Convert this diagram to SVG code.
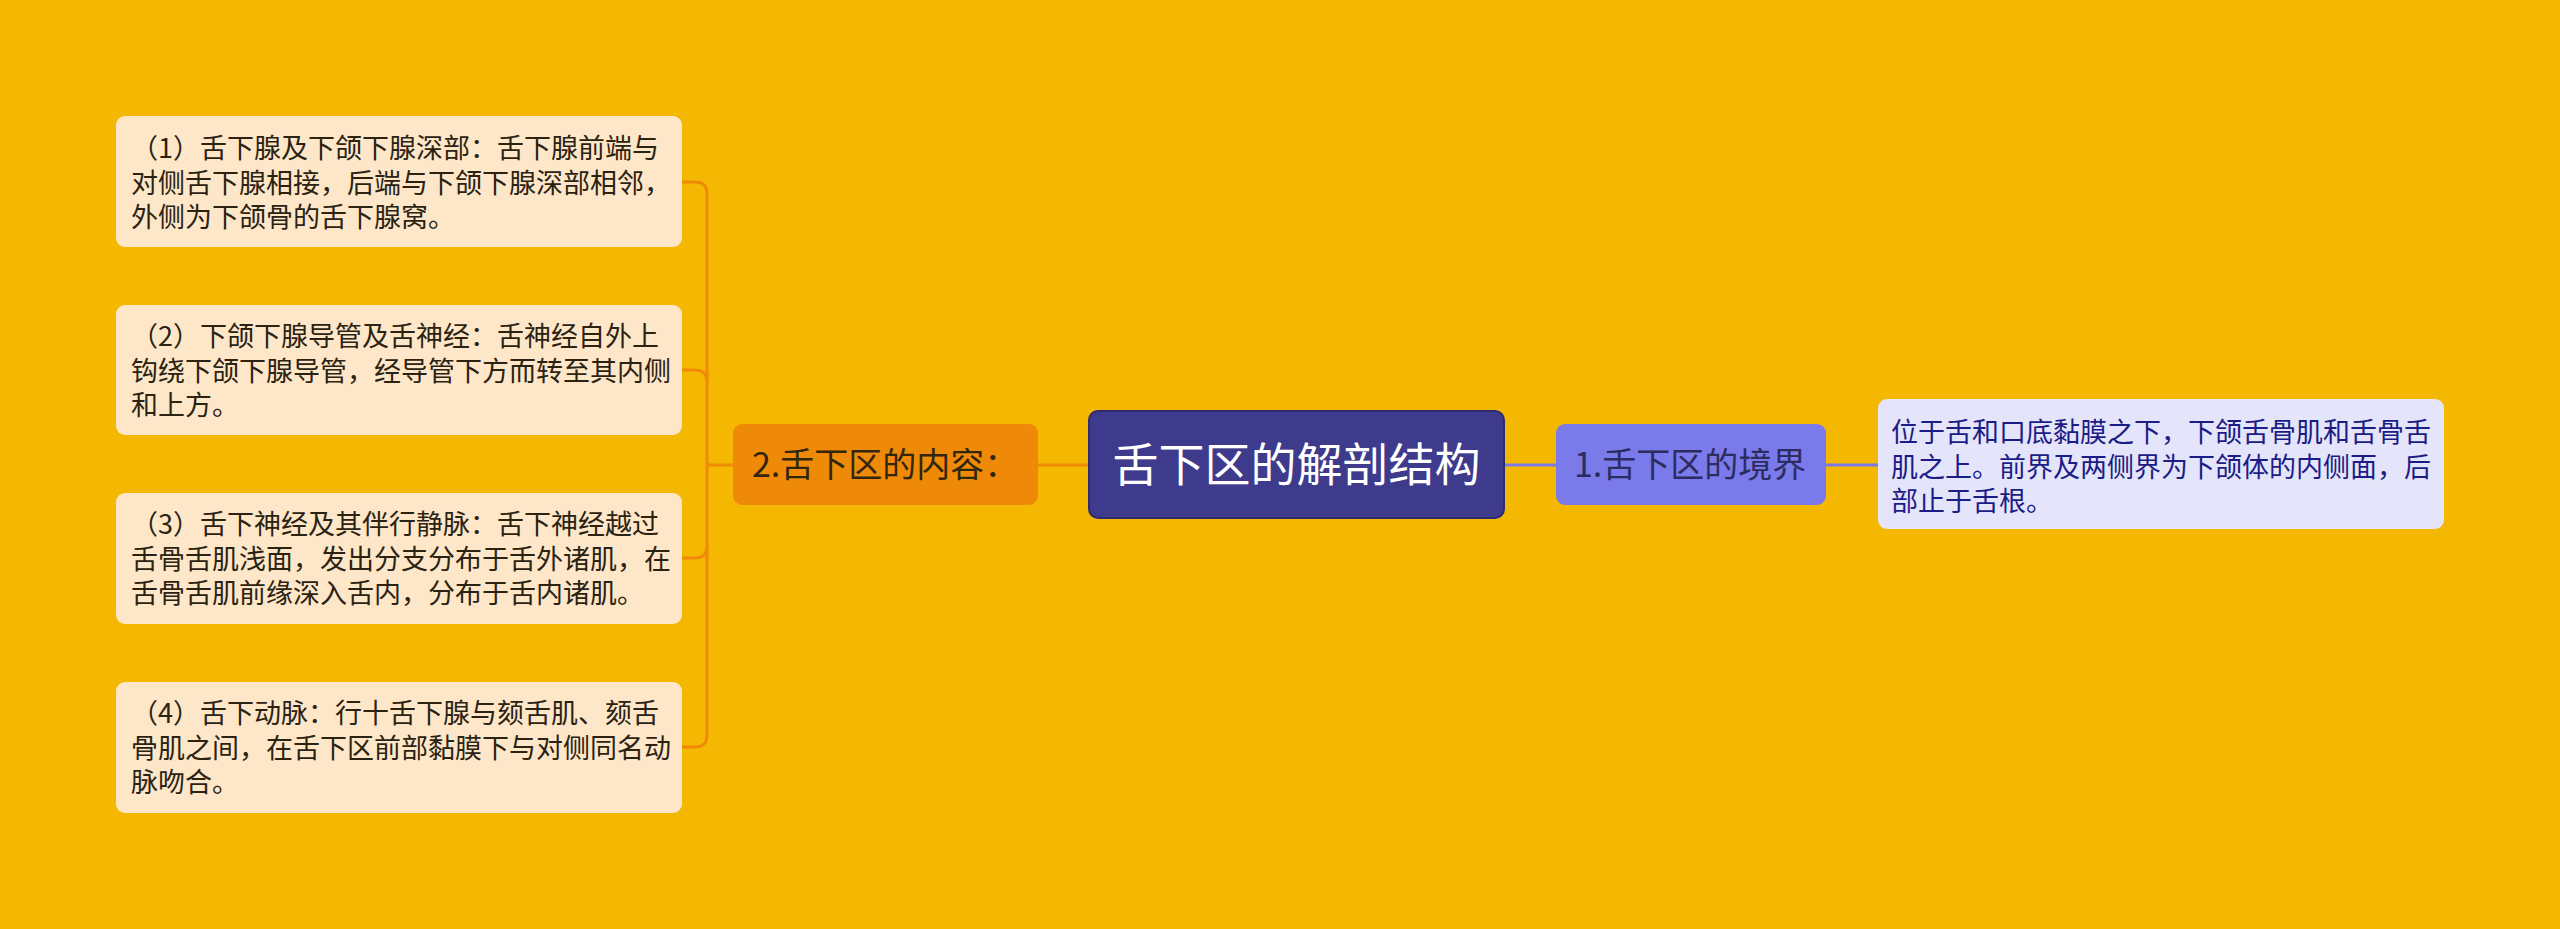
<svg xmlns="http://www.w3.org/2000/svg" width="2560" height="929" viewBox="0 0 2560 929">
<style>
text{font-family:"Noto Sans CJK SC","Noto Sans",sans-serif;}
.leaf{fill:#FDE7C8;}
.leaft{font-size:27px;fill:#2B2212;}
.rleaf{fill:#E4E4FA;}
.rleaft{font-size:27px;fill:#1C1C86;}
.ol{fill:none;stroke:#EF8A08;stroke-width:3;}
.bl{fill:none;stroke:#7B7BE6;stroke-width:3;}
</style>
<rect x="0" y="0" width="2560" height="929" fill="#F5B802"/>
<g id="connectors">
<path class="bl" d="M1504,465 H1556"/>
<path class="bl" d="M1826,465 H1878"/>
<path class="ol" d="M1089,465 H1038"/>
<path class="ol" d="M733,465 H707"/>
<path class="ol" d="M682,182 H695 Q707,182 707,194 V735 Q707,747 695,747 H682"/>
<path class="ol" d="M682,370 H695 Q707,370 707,382"/>
<path class="ol" d="M682,558 H695 Q707,558 707,546"/>
</g>
<g id="center">
<rect x="1089" y="411" width="415" height="107" rx="9" fill="#3E3A8C" stroke="#2E2A6E" stroke-width="2"/>
<text x="1296.5" y="481" font-size="46" fill="#FFFFFF" text-anchor="middle">舌下区的解剖结构</text>
</g>
<g id="n1">
<rect x="1556" y="424" width="270" height="81" rx="9" fill="#7A7AEA"/>
<text x="1574" y="477" font-size="34" fill="#2C2C5E">1.舌下区的境界</text>
</g>
<g id="n1a">
<rect class="rleaf" x="1878" y="399" width="566" height="130" rx="9"/>
<text class="rleaft" x="1891" y="442">位于舌和口底黏膜之下，下颌舌骨肌和舌骨舌</text>
<text class="rleaft" x="1891" y="476.5">肌之上。前界及两侧界为下颌体的内侧面，后</text>
<text class="rleaft" x="1891" y="511">部止于舌根。</text>
</g>
<g id="n2">
<rect x="733" y="424" width="305" height="81" rx="9" fill="#EF8A08"/>
<text x="752" y="477" font-size="34" fill="#33260F">2.舌下区的内容：</text>
</g>
<g id="n2a">
<rect class="leaf" x="116" y="116" width="566" height="131" rx="9"/>
<text class="leaft" x="131" y="158">（1）舌下腺及下颌下腺深部：舌下腺前端与</text>
<text class="leaft" x="131" y="192.5">对侧舌下腺相接，后端与下颌下腺深部相邻，</text>
<text class="leaft" x="131" y="227">外侧为下颌骨的舌下腺窝。</text>
</g>
<g id="n2b">
<rect class="leaf" x="116" y="305" width="566" height="130" rx="9"/>
<text class="leaft" x="131" y="346">（2）下颌下腺导管及舌神经：舌神经自外上</text>
<text class="leaft" x="131" y="380.5">钩绕下颌下腺导管，经导管下方而转至其内侧</text>
<text class="leaft" x="131" y="415">和上方。</text>
</g>
<g id="n2c">
<rect class="leaf" x="116" y="493" width="566" height="131" rx="9"/>
<text class="leaft" x="131" y="534">（3）舌下神经及其伴行静脉：舌下神经越过</text>
<text class="leaft" x="131" y="568.5">舌骨舌肌浅面，发出分支分布于舌外诸肌，在</text>
<text class="leaft" x="131" y="603">舌骨舌肌前缘深入舌内，分布于舌内诸肌。</text>
</g>
<g id="n2d">
<rect class="leaf" x="116" y="682" width="566" height="131" rx="9"/>
<text class="leaft" x="131" y="723">（4）舌下动脉：行十舌下腺与颏舌肌、颏舌</text>
<text class="leaft" x="131" y="757.5">骨肌之间，在舌下区前部黏膜下与对侧同名动</text>
<text class="leaft" x="131" y="792">脉吻合。</text>
</g>
</svg>
